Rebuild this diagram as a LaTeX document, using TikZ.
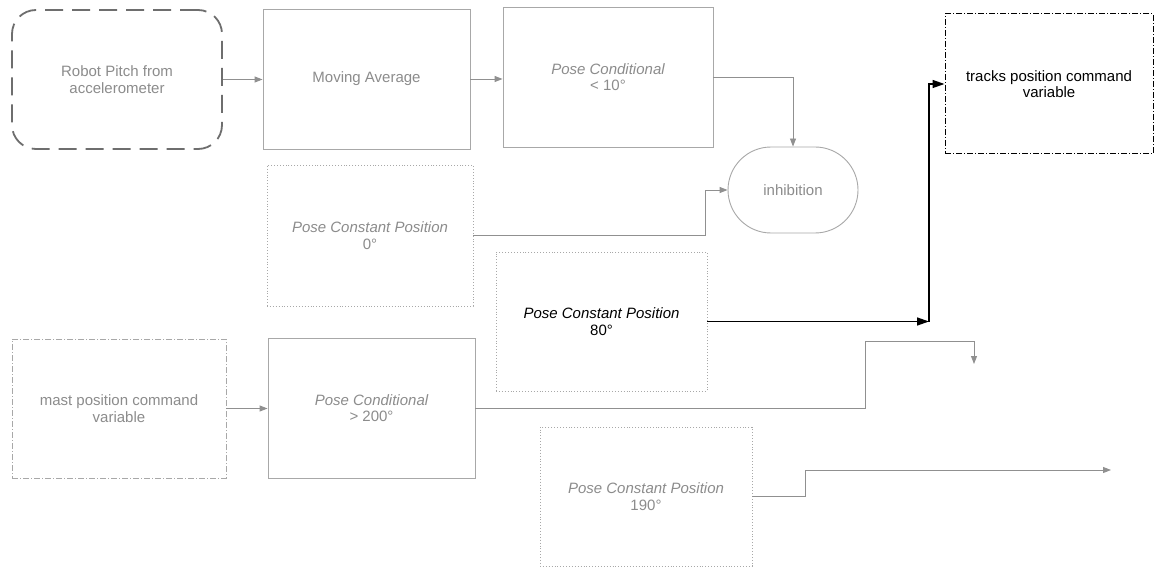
\documentclass[tikz,border=0pt]{standalone}
\usepackage{fontspec}
\setmainfont{Liberation Sans}
\usetikzlibrary{arrows.meta,shapes.misc}
\definecolor{boxgray}{HTML}{A8A8A8}
\definecolor{txtgray}{HTML}{8C8C8C}
\definecolor{linegray}{HTML}{909090}
\definecolor{darkdash}{HTML}{6E6E6E}
\begin{document}
\begin{tikzpicture}[x=1pt,y=-1pt,
  every node/.style={font=\fontsize{15}{16.5}\selectfont, align=center, inner sep=0pt},
  blk/.style={draw=boxgray, line width=0.9pt, text=txtgray},
  dotbox/.style={draw=boxgray, line width=0.9pt, dotted, text=txtgray},
  dashdotbox/.style={draw=boxgray, line width=0.9pt, dash pattern=on 6pt off 2pt on 1pt off 2pt, text=txtgray},
  robotbox/.style={draw=darkdash, line width=1.8pt, dash pattern=on 18pt off 9pt, rounded corners=24pt, text=txtgray},
  conn/.style={draw=linegray, line width=0.9pt, -{Triangle[length=8pt,width=6pt]}},
  plain/.style={draw=linegray, line width=0.9pt},
  bconn/.style={draw=black, line width=1.4pt, -{Triangle[length=12pt,width=8pt]}}
]
\useasboundingbox (0,0) rectangle (1158,569);
\fill[white] (0,0) rectangle (1158,569);

\node[robotbox, minimum width=210pt, minimum height=139pt] (robot) at (117,79.5) {Robot Pitch from\\accelerometer};
\node[blk, minimum width=207pt, minimum height=140pt] (movavg) at (366.5,79) {Moving Average};
\node[blk, minimum width=210pt, minimum height=140pt] (pc10) at (608,77) {\itshape Pose Conditional\\{\upshape < 10°}};
\node[draw=boxgray, line width=0.9pt, text=txtgray, rounded rectangle, minimum width=130pt, minimum height=86pt] (inhib) at (793,190) {inhibition};
\node[dotbox, minimum width=206pt, minimum height=141pt] (c0) at (370,235.5) {\itshape Pose Constant Position\\{\upshape 0°}};
\node[dotbox, text=black, minimum width=211pt, minimum height=139pt] (c80) at (601.5,321.5) {\itshape Pose Constant Position\\{\upshape 80°}};
\node[draw=black, line width=1pt, dash pattern=on 6pt off 2pt on 1pt off 2pt, text=black, minimum width=208pt, minimum height=140pt] (tracks) at (1049,84) {tracks position command\\variable};
\node[dashdotbox, minimum width=214pt, minimum height=139pt] (mast) at (119,408.5) {mast position command\\variable};
\node[blk, minimum width=207pt, minimum height=140pt] (pc200) at (371.5,408) {\itshape Pose Conditional\\{\upshape > 200°}};
\node[dotbox, minimum width=212pt, minimum height=139pt] (c190) at (646,496.5) {\itshape Pose Constant Position\\{\upshape 190°}};

\coordinate (k0) at (705,190);
\coordinate (j80) at (929,321.5);
\coordinate (k200) at (865,341);
\coordinate (e200) at (974,364);
\coordinate (k190) at (805,470);
\coordinate (e190) at (1111,470);

\draw[conn] (robot.east) -- (movavg.west |- robot.east);
\draw[conn] (movavg.east) -- (pc10.west |- movavg.east);
\draw[conn] (pc10.east) -| (inhib.north);
\draw[conn] (c0.east) -| (k0) -- (inhib.west);
\draw[bconn] (c80.east) -- (j80);
\draw[bconn] (j80) |- (tracks.west);
\draw[conn] (mast.east) -- (pc200.west |- mast.east);
\draw[conn] (pc200.east) -| (k200) -| (e200);
\draw[conn] (c190.east) -| (k190) -- (e190);
\end{tikzpicture}
\end{document}
